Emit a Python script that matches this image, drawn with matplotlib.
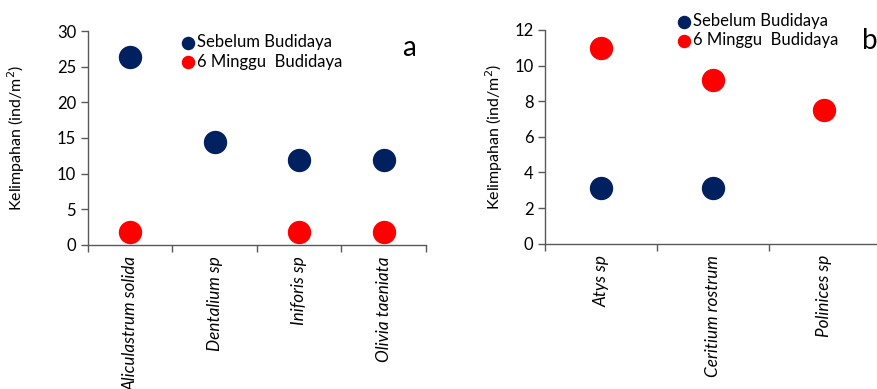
import numpy as np
import matplotlib.pyplot as plt

plt.rcParams['font.family'] = ['Lato', 'DejaVu Sans']

# panel a
spesies_a = ['Aliculastrum solida', 'Dentalium sp', 'Iniforis sp', 'Olivia taeniata']
sebelum_a = [26.3, 14.4, 11.9, 11.9]
minggu6_a = [1.8, np.nan, 1.8, 1.8]

# panel b
spesies_b = ['Atys sp', 'Ceritium rostrum', 'Polinices sp']
sebelum_b = [3.1, 3.1, np.nan]
minggu6_b = [11.0, 9.2, 7.5]

biru = '#002060'
merah = '#FF0000'

fig = plt.figure(figsize=(8.77, 3.89), dpi=100)
ax1 = fig.add_axes([0.1003, 0.3702, 0.3854, 0.5501])
ax2 = fig.add_axes([0.6218, 0.3735, 0.3818, 0.5494])


def gambar(ax, spesies, sebelum, minggu6, ymax, ystep, huruf, leg_xy, huruf_xy):
    n = len(spesies)
    x = np.arange(n)
    ax.scatter(x, sebelum, s=250, color=biru, label='Sebelum Budidaya', zorder=3)
    ax.scatter(x, minggu6, s=250, color=merah, label='6 Minggu  Budidaya', zorder=3)
    ax.set_xlim(-0.5, n - 0.5)
    ax.set_ylim(0, ymax)
    ax.set_yticks(np.arange(0, ymax + 0.1, ystep))
    ax.set_xticks(np.arange(n + 1) - 0.5)
    ax.set_xticklabels([])
    ax.set_xticks(x, minor=True)
    ax.set_xticklabels(spesies, minor=True, rotation=90, style='italic', fontsize=12.3,
                       va='top', ha='center')
    ax.tick_params(axis='x', which='minor', length=0, pad=8)
    ax.tick_params(axis='x', which='major', length=5, width=1, color='#595959')
    ax.tick_params(axis='y', length=5, width=1, color='#595959', labelsize=12)
    for s in ['top', 'right']:
        ax.spines[s].set_visible(False)
    for s in ['left', 'bottom']:
        ax.spines[s].set_color('#595959')
        ax.spines[s].set_linewidth(1)
    ax.set_ylabel('Kelimpahan (ind/m$^2$)', fontsize=11.5)
    ax.legend(loc='upper left', bbox_to_anchor=leg_xy, frameon=False,
              fontsize=12, handletextpad=0.05, borderaxespad=0,
              labelspacing=0.2, markerscale=0.55, handlelength=1.0,
              borderpad=0)
    ax.text(huruf_xy[0], huruf_xy[1], huruf, transform=ax.transAxes, fontsize=20,
            ha='center', va='center')


gambar(ax1, spesies_a, sebelum_a, minggu6_a, 30, 5, 'a', (0.27, 0.985), (0.95, 0.92))
gambar(ax2, spesies_b, sebelum_b, minggu6_b, 12, 2, 'b', (0.39, 1.08), (0.97, 0.95))
ax1.yaxis.set_label_coords(-0.18, 0.5)
ax2.yaxis.set_label_coords(-0.12, 0.5)

fig.savefig('out.png', dpi=100)
